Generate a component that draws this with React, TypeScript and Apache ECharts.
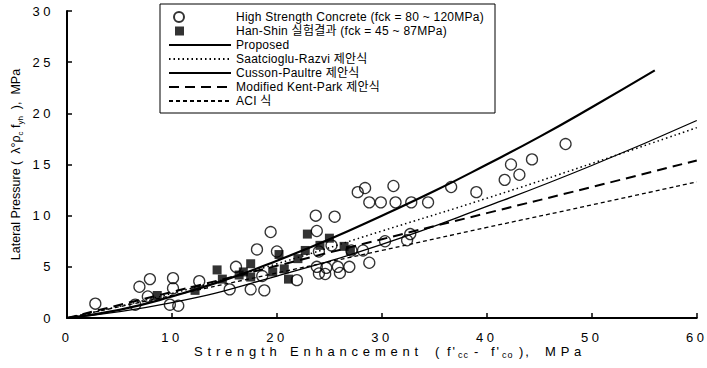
import React, { useEffect, useRef } from "react";
import * as echarts from "echarts";

// ---- data ----
const hscX = [2.7, 6.5, 6.9, 7.7, 7.9, 9.8, 10.6, 10.1, 10.1, 12.6, 15.5, 16.1, 17.5, 18.1, 18.6, 18.8, 19.4, 20.0, 21.9, 23.7, 25.5, 23.8, 24.0, 25.2, 23.8, 24.7, 25.8, 26.9, 24.0, 24.6, 26.0, 28.8, 28.2, 27.1, 30.3, 32.4, 32.7, 27.7, 28.4, 31.1, 28.8, 29.9, 31.3, 32.8, 34.4, 36.6, 39.0, 41.7, 42.3, 43.1, 44.3, 47.5];
const hscY = [1.4, 1.3, 3.05, 2.1, 3.8, 1.3, 1.2, 2.9, 3.9, 3.6, 2.8, 5.0, 2.8, 6.7, 4.1, 2.7, 8.4, 6.5, 3.7, 10.0, 9.9, 8.5, 6.5, 7.1, 5.0, 4.9, 5.0, 5.0, 4.35, 4.3, 4.4, 5.4, 6.6, 6.6, 7.5, 7.6, 8.2, 12.3, 12.7, 12.9, 11.3, 11.3, 11.3, 11.3, 11.3, 12.8, 12.3, 13.5, 15.0, 14.0, 15.5, 17.0];

const hanShinX = [8.6, 12.2, 14.3, 14.8, 16.4, 16.8, 17.5, 17.5, 19.6, 20.2, 20.7, 21.1, 22.0, 22.7, 22.9, 24.1, 25.0, 26.4, 27.0];
const hanShinY = [2.2, 2.7, 4.7, 3.8, 4.2, 4.5, 5.3, 4.0, 4.5, 6.2, 4.8, 3.8, 5.8, 6.6, 8.2, 7.1, 7.8, 7.0, 6.6];

const proposedX = [0, 5, 10, 15, 20, 25, 30, 35, 40, 45, 50, 56];
const proposedY = [0, 0.8, 2.1, 3.7, 5.6, 7.7, 10.0, 12.4, 15.0, 17.7, 20.6, 24.2];

const modelX = [0, 10, 20, 30, 40, 50, 60];
const saatciogluY = [0, 2.4, 5.3, 8.5, 11.7, 15.1, 18.6];
const cussonY = [0, 1.5, 4.1, 7.2, 10.9, 14.9, 19.3];
const kentParkY = [0, 2.55, 5.1, 7.7, 10.25, 12.8, 15.4];
const aciY = [0, 2.2, 4.4, 6.6, 8.85, 11.05, 13.3];

const seriesNames = [
  "High Strength Concrete (fck = 80 ~ 120MPa)",
  "Han-Shin 실험결과 (fck = 45 ~ 87MPa)",
  "Proposed",
  "Saatcioglu-Razvi 제안식",
  "Cusson-Paultre 제안식",
  "Modified Kent-Park 제안식",
  "ACI 식",
];

// x-axis title, split so that subscripts can be drawn smaller and lower
const xNameParts = ["Strength Enhancement", "(", "f'", "cc", "-", "f'", "co", "),", "MPa"];
const yAxisNameParts = ["Lateral Pressure (  λ°ρ", "c", " f", "yh", "  ),  MPa"];

const FONT_LGD = "LGDSP, 'Liberation Sans', 'Noto Sans CJK KR', sans-serif";
const FONT_TCK = "TCKSP, 'Liberation Sans', sans-serif";
const FONT_XW = "XWIDE, 'Liberation Sans', sans-serif";
const FONT_XN = "XNARR, 'Liberation Sans', sans-serif";
const FONT_XS = "XSUBS, 'Liberation Sans', sans-serif";
const FONT_Y = "'Liberation Sans', sans-serif";

const zip = (xs: number[], ys: number[]) => xs.map((x, i) => [x, ys[i]]);

// layout of the x-axis title pieces (pixels)
const xNameLeft = [194, 435, 447, 458, 474, 491, 502, 519, 545];
const xNameSub = [false, false, false, true, false, false, true, false, false];

export default function App() {
  const ref = useRef<HTMLDivElement>(null);
  useEffect(() => {
    const chart = echarts.init(ref.current!, null, { renderer: "svg" });
    const yName = `${yAxisNameParts[0]}{s|${yAxisNameParts[1]}}${yAxisNameParts[2]}{s|${yAxisNameParts[3]}}${yAxisNameParts[4]}`;
    const transparent = "rgba(0,0,0,0)";
    const lineItemStyle = { color: transparent, borderColor: transparent, borderWidth: 0 };
    const xNameGraphics = xNameParts.map((t, i) => ({
      type: "text",
      x: xNameLeft[i],
      y: xNameSub[i] ? 355 : 351,
      silent: true,
      style: {
        text: t,
        fill: "#000",
        fontSize: xNameSub[i] ? 9 : 13,
        fontFamily: xNameSub[i] ? FONT_XS : i === 0 || i === xNameParts.length - 1 ? FONT_XW : FONT_XN,
        align: "left",
        verticalAlign: "middle",
      },
    }));
    chart.setOption({
      animation: false,
      backgroundColor: "#fff",
      grid: { left: 67, right: 3, top: 11, bottom: 50, containLabel: false },
      legend: {
        orient: "vertical",
        left: 168,
        top: 10,
        padding: 0,
        itemGap: 0,
        itemWidth: 62,
        itemHeight: 10,
        symbolKeepAspect: true,
        textStyle: { fontFamily: FONT_LGD, fontSize: 12, color: "#000", lineHeight: 14 },
        data: [
          { name: seriesNames[0], icon: "path://M0,0M62,10M15,5A5,5,0,1,1,5,5A5,5,0,1,1,15,5Z" },
          { name: seriesNames[1], icon: "path://M0,0M62,10M6,0.5L15,0.5L15,9.5L6,9.5Z" },
          seriesNames[2],
          seriesNames[3],
          seriesNames[4],
          seriesNames[5],
          seriesNames[6],
        ],
      },
      graphic: [
        {
          type: "rect",
          shape: { x: 160, y: 4, width: 335, height: 109 },
          style: { fill: "none", stroke: "#000", lineWidth: 1 },
          z: 10,
        },
        ...xNameGraphics,
      ],
      xAxis: {
        type: "value",
        min: 0,
        max: 60,
        interval: 10,
        axisLine: { show: true, lineStyle: { color: "#000", width: 2 } },
        axisTick: { show: true, inside: true, length: 5, lineStyle: { color: "#000", width: 1.5 } },
        axisLabel: { color: "#000", fontSize: 13, fontFamily: FONT_TCK, margin: 13 },
        splitLine: { show: false },
      },
      yAxis: {
        type: "value",
        min: 0,
        max: 30,
        interval: 5,
        axisLine: { show: true, lineStyle: { color: "#000", width: 2 } },
        axisTick: { show: true, inside: true, length: 5, lineStyle: { color: "#000", width: 1.5 } },
        axisLabel: { color: "#000", fontSize: 13, fontFamily: FONT_TCK, margin: 13 },
        splitLine: { show: false },
        name: yName,
        nameLocation: "middle",
        nameRotate: 90,
        nameGap: 43,
        nameTextStyle: {
          color: "#000",
          fontSize: 12.5,
          fontFamily: FONT_Y,
          lineHeight: 16,
          rich: {
            s: { fontSize: 8, fontFamily: FONT_Y, color: "#000", lineHeight: 10, verticalAlign: "bottom" },
          },
        },
      },
      series: [
        {
          name: seriesNames[0],
          type: "scatter",
          data: zip(hscX, hscY),
          symbol: "circle",
          symbolSize: 11,
          itemStyle: { color: "rgba(255,255,255,0)", borderColor: "#000", borderWidth: 1.3 },
          z: 4,
        },
        {
          name: seriesNames[1],
          type: "scatter",
          data: zip(hanShinX, hanShinY),
          symbol: "rect",
          symbolSize: 9,
          itemStyle: { color: "#000" },
          z: 5,
        },
        {
          name: seriesNames[2],
          type: "line",
          data: zip(proposedX, proposedY),
          symbol: "none",
          smooth: true,
          lineStyle: { color: "#000", width: 2.2, type: "solid" },
          itemStyle: lineItemStyle,
        },
        {
          name: seriesNames[3],
          type: "line",
          data: zip(modelX, saatciogluY),
          symbol: "none",
          smooth: true,
          lineStyle: { color: "#000", width: 1.5, type: [1.5, 3] },
          itemStyle: lineItemStyle,
        },
        {
          name: seriesNames[4],
          type: "line",
          data: zip(modelX, cussonY),
          symbol: "none",
          smooth: true,
          lineStyle: { color: "#000", width: 1.3, type: "solid" },
          itemStyle: lineItemStyle,
        },
        {
          name: seriesNames[5],
          type: "line",
          data: zip(modelX, kentParkY),
          symbol: "none",
          smooth: true,
          lineStyle: { color: "#000", width: 2, type: [10, 6] },
          itemStyle: lineItemStyle,
        },
        {
          name: seriesNames[6],
          type: "line",
          data: zip(modelX, aciY),
          symbol: "none",
          smooth: true,
          lineStyle: { color: "#000", width: 1.3, type: [4, 3] },
          itemStyle: lineItemStyle,
        },
      ],
    });
    return () => chart.dispose();
  }, []);
  return (
    <>
      <style>{`
        #chartbox text[style*="LGDSP"] { letter-spacing: 0.25px; }
        #chartbox text[style*="TCKSP"] { letter-spacing: 3.5px; }
        #chartbox text[style*="XWIDE"] { letter-spacing: 4.8px; }
        #chartbox text[style*="XNARR"] { letter-spacing: 2px; }
        #chartbox text[style*="XSUBS"] { letter-spacing: 1px; }
      `}</style>
      <div
        id="chartbox"
        ref={ref}
        style={{ position: "fixed", left: 0, top: 0, width: 707, height: 368, background: "#fff" }}
      />
    </>
  );
}
